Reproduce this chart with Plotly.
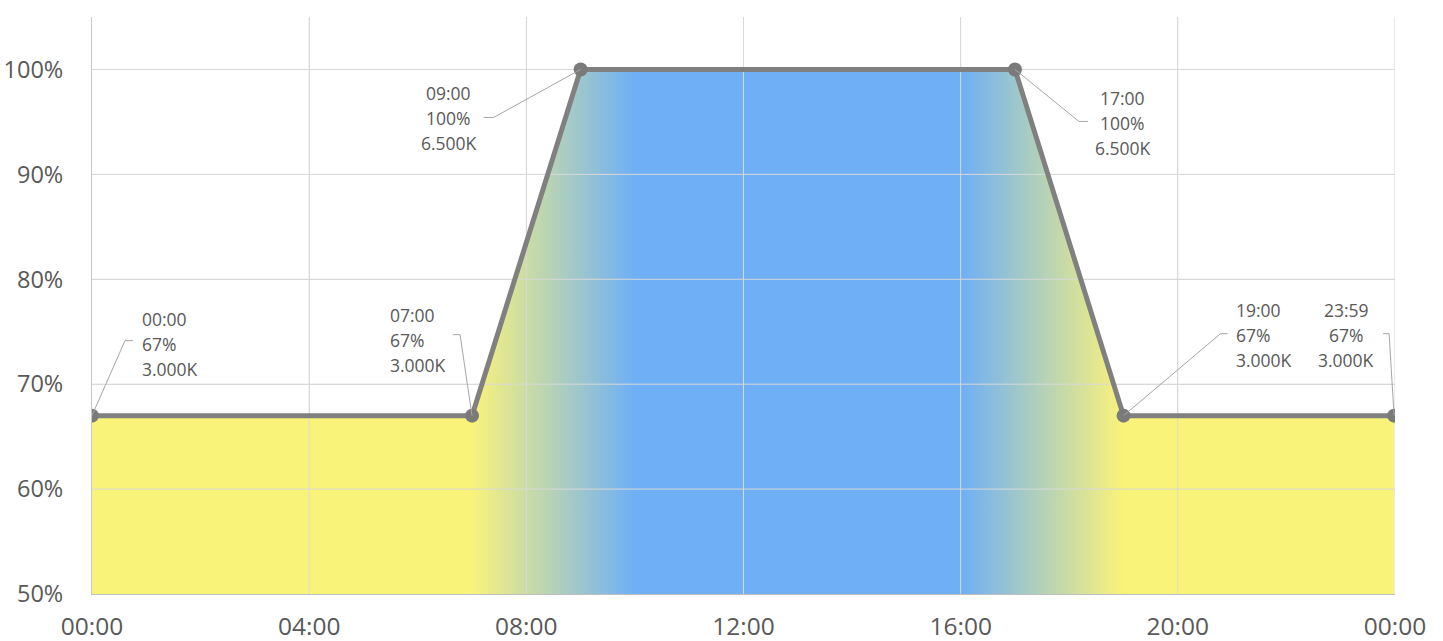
import plotly.graph_objects as go

# daily light curve: time of day (hours), level (%), colour temperature
hours = [0, 7, 9, 17, 19, 23.983]
levels = [67, 67, 100, 100, 67, 67]
time_labels = ['00:00', '07:00', '09:00', '17:00', '19:00', '23:59']
kelvin_labels = ['3.000K', '3.000K', '6.500K', '6.500K', '3.000K', '3.000K']

x_ticks = [0, 4, 8, 12, 16, 20, 24]
x_ticktext = ['00:00', '04:00', '08:00', '12:00', '16:00', '20:00', '00:00']
y_ticks = [50, 60, 70, 80, 90, 100]
y_ticktext = ['50%', '60%', '70%', '80%', '90%', '100%']

YELLOW = 'rgb(250,243,122)'
BLUE = 'rgb(110,175,246)'
GRID = '#D9D9D9'
TXT = '#595959'

# gradient stops (hours) -> colour along the filled area
grad_hours = [0, 7, 10, 16, 19, 24]
grad_cols = [YELLOW, YELLOW, BLUE, BLUE, YELLOW, YELLOW]
span = hours[-1] - hours[0]
cscale = [[min(1.0, (h - hours[0]) / span), c] for h, c in zip(grad_hours, grad_cols)]

fig = go.Figure()

fig.add_trace(go.Scatter(
    x=hours, y=levels, mode='none', fill='tozeroy',
    fillgradient=dict(type='horizontal', colorscale=cscale),
    hoverinfo='skip', showlegend=False))

# gridlines redrawn over the fill, like the original
gx, gy = [], []
for t in x_ticks[1:]:
    gx += [t, t, None]
    gy += [50, 105, None]
for v in y_ticks[1:]:
    gx += [0, 24, None]
    gy += [v, v, None]
fig.add_trace(go.Scatter(x=gx, y=gy, mode='lines', line=dict(color=GRID, width=1),
                         hoverinfo='skip', showlegend=False))

fig.add_trace(go.Scatter(
    x=hours, y=levels, mode='lines+markers',
    line=dict(color='#808080', width=5),
    marker=dict(size=14, color='#7A7A7A'),
    showlegend=False))

# label placement: xanchor, dx, dy (middle line, px up), leader path (px offsets)
label_pos = [
    ('left', 48, 72, [(0, 0), (33, 75), (41, 75)]),
    ('left', -84, 76, [(0, 0), (-12, 81), (-19, 81)]),
    ('center', -132, -49, [(0, 0), (-87, -48), (-97, -48)]),
    ('center', 108, -54, [(0, 0), (64, -52), (73, -52)]),
    ('left', 110, 81, [(0, 0), (97, 82), (104, 82)]),
    ('center', -48, 81, [(0, 0), (-5, 82), (-11, 82)]),
]

for i, (xa, dx, dy, path) in enumerate(label_pos):
    lines = [time_labels[i], f'{levels[i]}%', kelvin_labels[i]]
    for k, txt in enumerate(lines):
        fig.add_annotation(x=hours[i], y=levels[i], text=txt, showarrow=False,
                           xanchor=xa, yanchor='middle', xshift=dx,
                           yshift=dy + (1 - k) * 25,
                           font=dict(family='Open Sans', size=17.5, color=TXT))
    p = 'M' + ' L'.join(f'{px},{py}' for px, py in path)
    fig.add_shape(type='path', path=p, xsizemode='pixel', ysizemode='pixel',
                  xanchor=hours[i], yanchor=levels[i], xref='x', yref='y',
                  line=dict(color='#A6A6A6', width=1))

fig.update_xaxes(range=[0, 24], tickvals=x_ticks, ticktext=x_ticktext,
                 showgrid=True, gridcolor=GRID, gridwidth=1,
                 showline=True, linecolor='#BFBFBF', linewidth=1,
                 ticks='outside', ticklen=11, tickcolor='rgba(0,0,0,0)',
                 tickfont=dict(family='Open Sans', size=24.5, color=TXT),
                 zeroline=False, fixedrange=True, automargin=False)
fig.update_yaxes(range=[50, 105], tickvals=y_ticks, ticktext=y_ticktext,
                 showgrid=True, gridcolor=GRID, gridwidth=1,
                 showline=True, linecolor='#C8C8C8', linewidth=1,
                 ticks='outside', ticklen=23, tickcolor='rgba(0,0,0,0)',
                 tickfont=dict(family='Open Sans', size=23.5, color=TXT),
                 zeroline=False, fixedrange=True, automargin=False)

fig.update_layout(width=1443, height=641, plot_bgcolor='white', paper_bgcolor='white',
                  margin=dict(l=92, r=48, t=17, b=47), hovermode=False)

# drop the default 8px page margin so the figure fills the window exactly
fig.write_html("out.html", config={'displayModeBar': False},
               post_script="document.body.style.margin='0';")
